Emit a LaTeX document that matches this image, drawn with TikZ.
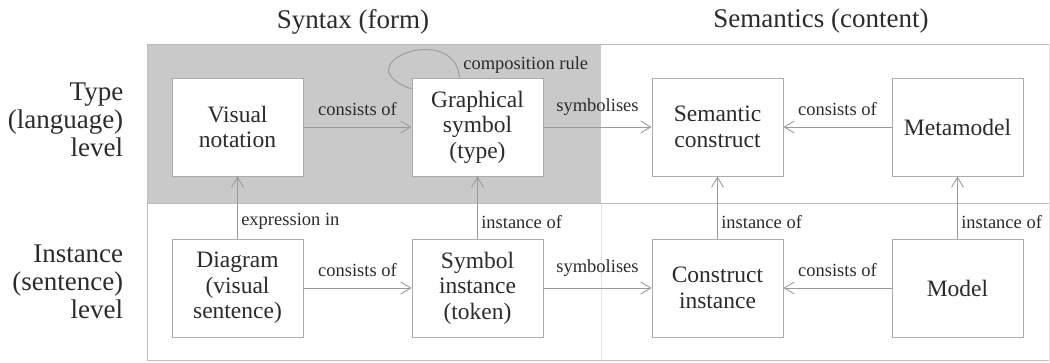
\documentclass[tikz,border=0pt]{standalone}
\usepackage{fontspec}
\setmainfont{Liberation Serif}
\usetikzlibrary{arrows.meta}

\definecolor{panelgrey}{HTML}{C9C9C9}
\definecolor{framegrey}{HTML}{BDBDBD}
\definecolor{palegrey}{HTML}{E2E2E2}
\definecolor{boxgrey}{HTML}{ABABAB}
\definecolor{arrowgrey}{HTML}{9A9A9A}
\definecolor{inkgrey}{HTML}{2B2B2B}

\begin{document}
\begin{tikzpicture}[->,>={Straight Barb[length=10pt,width=12pt]},auto,node distance=240pt,
  line width=0.9pt,draw=arrowgrey,text=inkgrey,
  main node/.style={rectangle,fill=white,draw=boxgrey,minimum width=131pt,minimum height=98pt,
    align=center,font=\fontsize{23.5}{25.5}\selectfont},
  head/.style={font=\fontsize{27}{28}\selectfont,align=right}]

 \useasboundingbox (-237.5pt,127pt) rectangle (812.5pt,-235pt);

 % panels
 \fill[panelgrey] (-90.5pt,83pt) rectangle (363.5pt,-76pt);
 \draw[-,palegrey] (363.5pt,-76pt) -- (363.5pt,-233pt);
 \draw[-,palegrey] (811.5pt,83pt) -- (811.5pt,-233pt);
 \draw[-,framegrey] (-90.5pt,83pt) -- (811.5pt,83pt);
 \draw[-,framegrey] (-90.5pt,-76pt) -- (811.5pt,-76pt);
 \draw[-,framegrey] (-90.5pt,83pt) -- (-90.5pt,-233pt) -- (811.5pt,-233pt);

 \node[head,align=center] (syn) at (115.5pt,105pt) {Syntax (form)};
 \node[head,align=center] (sem) at (583.5pt,106pt) {Semantics (content)};
 \node[head,anchor=east] (typ) at (-110.5pt,7pt) {Type\\(language)\\level};
 \node[head,anchor=east] (ins) at (-110.5pt,-155pt) {Instance\\(sentence)\\level};

 \node[main node] (vn) at (0,0) {Visual\\notation};
 \node[main node] (gs) [right of=vn] {Graphical\\symbol\\(type)};
 \node[main node] (sc) [right of=gs] {Semantic\\construct};
 \node[main node] (mm) [right of=sc] {Metamodel};
 \node[main node] (dg) [node distance=161pt,below of=vn] {Diagram\\(visual\\sentence)};
 \node[main node] (si) [right of=dg] {Symbol\\instance\\(token)};
 \node[main node] (ci) [right of=si] {Construct\\instance};
 \node[main node] (md) [right of=ci] {Model};

 \path[every node/.style={font=\fontsize{18.5}{20}\selectfont}]
    (vn) edge node[above=8pt] {consists of} (gs)
    (gs) edge node[above=8pt] {symbolises} (sc)
    (mm) edge node[above=8pt] {consists of} (sc)
    (dg) edge node[above=8pt] {consists of} (si)
    (si) edge node[above=8pt] {symbolises} (ci)
    (md) edge node[above=8pt] {consists of} (ci)
    (dg) edge node[right,pos=0.27] {expression in} (vn)
    (si) edge node[right,pos=0.27] {instance of} (gs)
    (ci) edge node[right,pos=0.27] {instance of} (sc)
    (md) edge node[right,pos=0.27] {instance of} (mm);

 \draw[-] (gs.150) .. controls +(-70pt,25pt) and +(-5pt,57pt) .. (gs.110)
    node[pos=1,anchor=south west,font=\fontsize{18.5}{20}\selectfont] {composition rule};

\end{tikzpicture}
\end{document}
